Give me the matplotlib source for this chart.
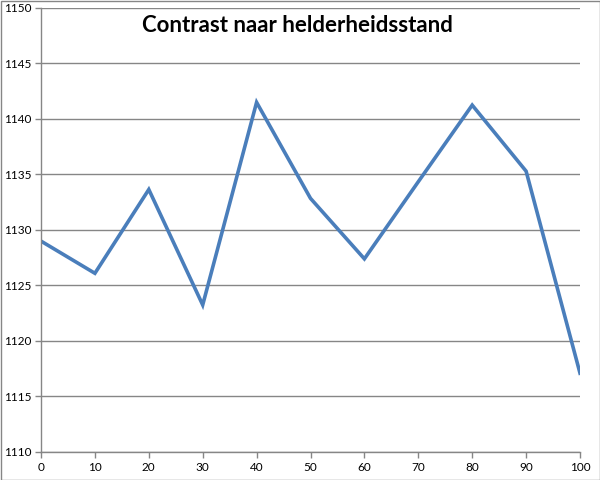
import matplotlib
matplotlib.use('Agg')
import matplotlib.pyplot as plt
from matplotlib.patches import Rectangle

# ── Data ──────────────────────────────────────────────────────
helderheid = [0, 10, 20, 30, 40, 50, 60, 70, 80, 90, 100]
contrast   = [1129.0, 1126.1, 1133.65, 1123.25, 1141.5, 1132.85,
              1127.4, 1134.35, 1141.25, 1135.3, 1117.1]
TITLE      = 'Contrast naar helderheidsstand'

LINE_CLR = '#4a7ebb'
GRID_CLR = '#868686'
FONT     = 'Lato'

# ── Plot ──────────────────────────────────────────────────────
fig = plt.figure(figsize=(6, 4.8), dpi=100)
ax  = fig.add_axes([41/600, 28/480, 539/600, 444/480])

ax.plot(helderheid, contrast, color=LINE_CLR, lw=2.6, solid_joinstyle='miter')

ax.set_xlim(0, 100)
ax.set_ylim(1110, 1150)
ax.set_xticks(range(0, 101, 10))
ax.set_yticks(range(1110, 1151, 5))
ax.yaxis.grid(True, color=GRID_CLR, lw=1)
ax.set_axisbelow(True)

for s in ['top', 'right']:
    ax.spines[s].set_visible(False)
for s in ['left', 'bottom']:
    ax.spines[s].set_color(GRID_CLR)
    ax.spines[s].set_linewidth(1)

ax.tick_params(axis='both', direction='out', length=4, width=1, color=GRID_CLR,
               labelsize=8.5, pad=3)
for lbl in ax.get_xticklabels() + ax.get_yticklabels():
    lbl.set_family(FONT)

fig.text(297/600, 1 - 25/480, TITLE, ha='center', va='center',
         fontsize=16, fontweight='bold', family=FONT)

# outer chart border
fig.patches.append(Rectangle((0.5/600, 0.5/480), 599/600, 479/480,
                             transform=fig.transFigure, fill=False,
                             edgecolor=GRID_CLR, lw=1))

plt.savefig('out.png', dpi=100)
plt.close()
